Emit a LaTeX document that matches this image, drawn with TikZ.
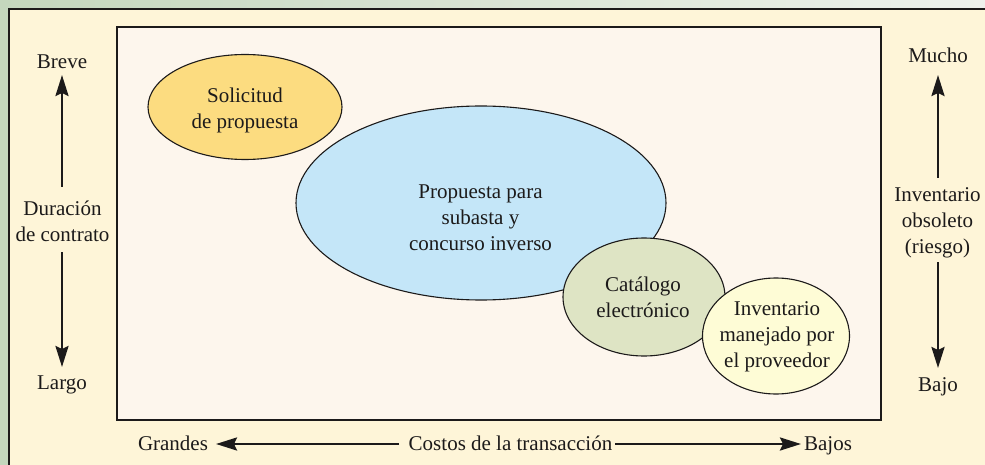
\documentclass[tikz,border=0pt]{standalone}
\usepackage{fontspec}
\setmainfont{Liberation Serif}
\usetikzlibrary{shapes.geometric,arrows.meta}
\definecolor{bggreen}{RGB}{196,215,189}
\definecolor{bggreenlight}{RGB}{238,241,236}
\definecolor{cream}{RGB}{254,245,216}
\definecolor{panel}{RGB}{253,246,237}
\definecolor{solfill}{RGB}{252,220,128}
\definecolor{propfill}{RGB}{196,230,248}
\definecolor{catfill}{RGB}{222,228,196}
\definecolor{invfill}{RGB}{254,252,214}
\definecolor{ink}{RGB}{28,26,26}
\begin{document}
\begin{tikzpicture}[x=1pt,y=-1pt,
  font=\fontsize{21}{26}\selectfont, text=ink,
  bubble/.style={ellipse, draw=ink, line width=1.1pt, inner sep=0pt},
  lbl/.style={align=center, inner sep=0pt},
  axisarrow/.style={draw=ink, line width=2.7pt, -{Stealth[length=21pt,width=13pt,inset=3pt]}}]
\useasboundingbox (0,0) rectangle (985,465);
\shade[left color=bggreen, right color=bggreenlight] (0,0) rectangle (985,465);
\draw[draw=ink, line width=1.3pt, fill=cream] (9,9) rectangle (992,472);
\draw[draw=ink, line width=1.3pt, fill=panel] (117,27) rectangle (881,420);

% bubbles
\node[bubble, fill=propfill, minimum width=370pt, minimum height=194pt] (prop) at (481,203) {};
\node[bubble, fill=solfill, minimum width=194pt, minimum height=105pt] (sol) at (245,107) {};
\node[bubble, fill=catfill, minimum width=162pt, minimum height=118pt] (cat) at (644,297) {};
\node[bubble, fill=invfill, minimum width=147pt, minimum height=116pt] (inv) at (776,336) {};

\node[lbl] (soltext) at (245,110) {Solicitud\\de propuesta};
\node[lbl] (proptext) at (480.5,218) {Propuesta para\\subasta y\\concurso inverso};
\node[lbl] (cattext) at (643,297) {Catálogo\\electrónico};
\node[lbl] (invtext) at (777,337) {Inventario\\manejado por\\el proveedor};

% left axis
\node[lbl, anchor=base] (breve) at (62,69) {Breve};
\node[lbl] (dur) at (62.5,221) {Duración\\de contrato};
\node[lbl, anchor=base] (largo) at (62,389) {Largo};
\coordinate (l1) at (62,187);
\coordinate (l1t) at (62,75);
\coordinate (l2) at (62,252);
\coordinate (l2t) at (62,367);
\draw[axisarrow] (l1) -- (l1t);
\draw[axisarrow] (l2) -- (l2t);

% right axis
\node[lbl, anchor=base] (mucho) at (938,63) {Mucho};
\node[lbl] (obs) at (937.5,223) {Inventario\\obsoleto\\(riesgo)};
\node[lbl, anchor=base] (bajo) at (938,391) {Bajo};
\coordinate (r1) at (938,178);
\coordinate (r1t) at (938,75);
\coordinate (r2) at (938,262);
\coordinate (r2t) at (938,368);
\draw[axisarrow] (r1) -- (r1t);
\draw[axisarrow] (r2) -- (r2t);

% bottom axis
\node[lbl, anchor=base] (grandes) at (173,450) {Grandes};
\node[lbl, anchor=base] (costos) at (510.5,450) {Costos de la transacción};
\node[lbl, anchor=base] (bajos) at (828,450) {Bajos};
\coordinate (b1) at (399,444);
\coordinate (b1t) at (216,444);
\coordinate (b2) at (615,444);
\coordinate (b2t) at (801,444);
\draw[axisarrow] (b1) -- (b1t);
\draw[axisarrow] (b2) -- (b2t);
\end{tikzpicture}
\end{document}
